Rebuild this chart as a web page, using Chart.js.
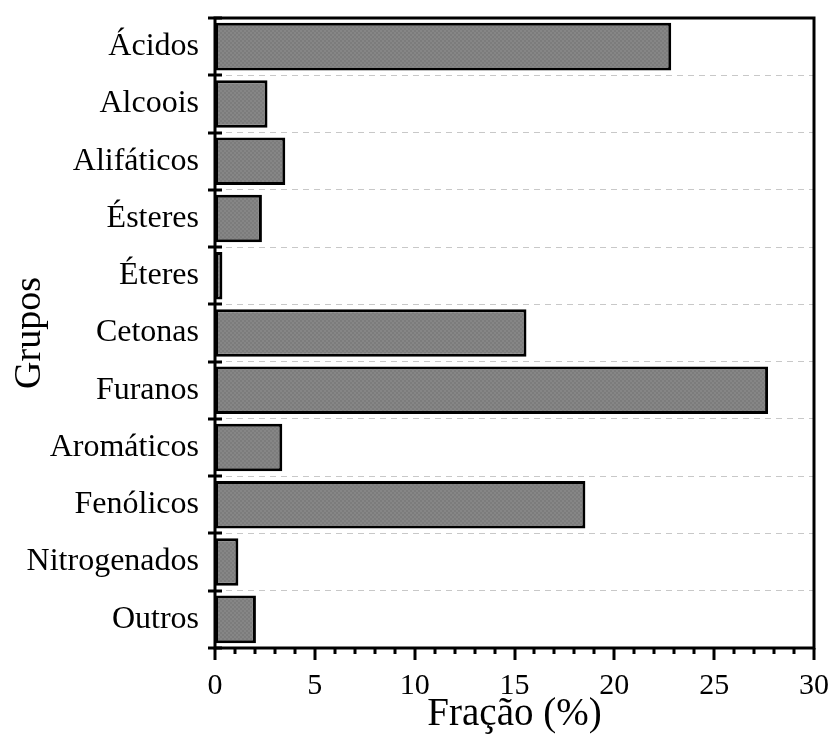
<!DOCTYPE html>
<html>
<head>
<meta charset="utf-8">
<script src="https://cdn.jsdelivr.net/npm/chart.js@4/dist/chart.umd.min.js"></script>
<style>
  html, body { margin: 0; padding: 0; background: #fff; }
  #wrap { width: 834px; height: 738px; }
</style>
</head>
<body>
<div id="wrap"><canvas id="c" width="834" height="738"></canvas></div>
<script>
// Composition of the bio-oil by chemical group (%)
const grupos = ['Ácidos', 'Alcoois', 'Alifáticos', 'Ésteres', 'Éteres', 'Cetonas',
                'Furanos', 'Aromáticos', 'Fenólicos', 'Nitrogenados', 'Outros'];
const fracao = [22.85, 2.63, 3.52, 2.35, 0.37, 15.6, 27.7, 3.37, 18.55, 1.17, 2.05];
const xMajorTicks = [0, 5, 10, 15, 20, 25, 30];
const xMinorStep = 1;

const SERIF = '"Liberation Serif", "Times New Roman", "DejaVu Serif", serif';

// fine two-tone checker fill for the bars
function barPattern(ctx) {
  const p = document.createElement('canvas');
  p.width = 4; p.height = 4;
  const g = p.getContext('2d');
  g.fillStyle = '#868686';
  g.fillRect(0, 0, 4, 4);
  g.fillStyle = '#7c7c7c';
  g.fillRect(0, 0, 2, 2);
  g.fillRect(2, 2, 2, 2);
  return ctx.createPattern(p, 'repeat');
}

// frame around the plot plus the tick marks on both axes
const framePlugin = {
  id: 'frameTicks',
  afterDraw(chart) {
    const { ctx, chartArea: a, scales: { x, y } } = chart;
    ctx.save();
    ctx.strokeStyle = '#000';
    ctx.lineWidth = 3;
    ctx.lineCap = 'butt';
    ctx.strokeRect(a.left, a.top, a.right - a.left, a.bottom - a.top);

    // x ticks: major every 5, minor every 1, pointing down
    const xmin = xMajorTicks[0], xmax = xMajorTicks[xMajorTicks.length - 1];
    for (let v = xmin; v <= xmax + 1e-9; v += xMinorStep) {
      const px = Math.round(x.getPixelForValue(v));
      const major = xMajorTicks.includes(v);
      ctx.lineWidth = 3;
      ctx.beginPath();
      ctx.moveTo(px, a.bottom);
      ctx.lineTo(px, a.bottom + (major ? 12 : 6));
      ctx.stroke();
    }

    // y ticks: at category boundaries, crossing the left axis
    ctx.lineWidth = 3;
    for (let i = 0; i <= grupos.length; i++) {
      const py = Math.round(y.getPixelForValue(i - 0.5));
      ctx.beginPath();
      ctx.moveTo(a.left - 7, py);
      ctx.lineTo(a.left + 7, py);
      ctx.stroke();
    }
    ctx.restore();
  }
};

const canvas = document.getElementById('c');
const ctx = canvas.getContext('2d');

new Chart(ctx, {
  type: 'bar',
  data: {
    labels: grupos,
    datasets: [{
      data: fracao,
      backgroundColor: barPattern(ctx),
      borderColor: '#000',
      borderWidth: 3,
      borderSkipped: false,
      barPercentage: 0.83,
      categoryPercentage: 1
    }]
  },
  options: {
    indexAxis: 'y',
    responsive: false,
    devicePixelRatio: 1,
    animation: false,
    layout: { padding: { top: 18, right: 20, bottom: 0, left: 0 } },
    plugins: {
      legend: { display: false },
      tooltip: { enabled: false }
    },
    scales: {
      x: {
        type: 'linear',
        position: 'bottom',
        min: 0,
        max: 30,
        afterBuildTicks(s) { s.ticks = xMajorTicks.map(v => ({ value: v })); },
        grid: { display: false },
        border: { display: false },
        ticks: {
          color: '#000',
          font: { family: SERIF, size: 30 },
          padding: 12,
          maxRotation: 0
        },
        title: {
          display: true,
          text: 'Fração (%)',
          color: '#000',
          font: { family: SERIF, size: 39, lineHeight: 1.2 },
          padding: { top: 0, bottom: 0 }
        },
        afterFit(s) {
          s.height = 90;
          s.paddingLeft = 0;
          s.paddingRight = 0;
        }
      },
      y: {
        type: 'category',
        offset: true,
        grid: {
          color: '#c8c8c8',
          lineWidth: 1,
          drawTicks: false,
          offset: true
        },
        border: { display: false, dash: [6, 5] },
        ticks: {
          color: '#000',
          font: { family: SERIF, size: 32 },
          padding: 16
        },
        title: {
          display: true,
          text: 'Grupos',
          color: '#000',
          font: { family: SERIF, size: 38, lineHeight: 1.2 },
          padding: { top: 7, bottom: 0 }
        },
        afterFit(s) {
          s.width = 215;
          s.paddingTop = 0;
          s.paddingBottom = 0;
        }
      }
    }
  },
  plugins: [framePlugin]
});
</script>
</body>
</html>
